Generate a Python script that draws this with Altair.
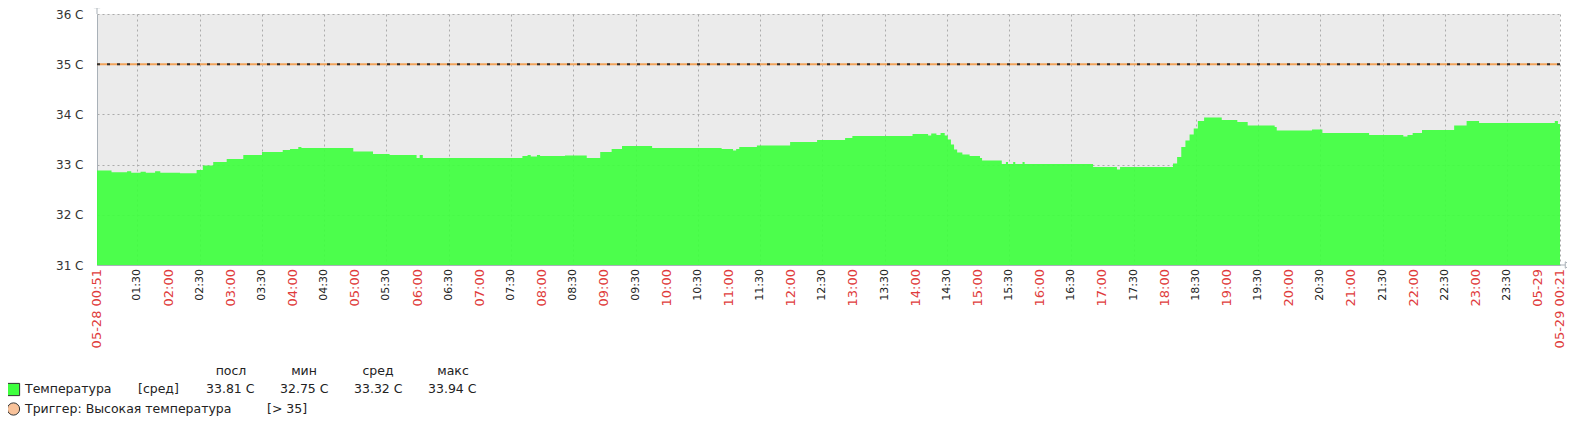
import altair as alt
import pandas as pd

# ---------------- data ----------------
SERIES_TIMES = ["00:51", "01:05", "01:20", "01:24", "01:33", "01:38", "01:47", "01:52",
                "02:11", "02:27", "02:33", "02:43", "02:56", "03:12", "03:30", "03:50",
                "03:57", "04:05", "04:08", "04:58", "05:17", "05:33", "05:59", "06:02",
                "06:05", "07:41", "07:46", "07:49", "07:55", "07:58", "08:22", "08:43",
                "08:56", "09:07", "09:17", "09:46", "10:53", "11:04", "11:07", "11:10",
                "11:27", "11:59", "12:25", "12:52", "12:59", "13:57", "14:12", "14:15",
                "14:20", "14:24", "14:28", "14:31", "14:34", "14:37", "14:40", "14:45",
                "14:52", "15:02", "15:04", "15:23", "15:27", "15:29", "15:34", "15:36",
                "15:43", "15:45", "16:51", "17:14", "17:17", "18:08", "18:12", "18:16",
                "18:20", "18:24", "18:28", "18:32", "18:38", "18:55", "19:10", "19:20",
                "19:46", "19:48", "20:22", "20:32", "21:17", "21:50", "21:54", "21:59",
                "22:08", "22:39", "22:51", "23:03", "00:16", "00:19", "00:21"]
SERIES_VALUES = [32.88, 32.85, 32.87, 32.84, 32.86, 32.84, 32.87, 32.84,
                 32.83, 32.89, 32.98, 33.05, 33.11, 33.19, 33.25, 33.29,
                 33.31, 33.35, 33.33, 33.26, 33.21, 33.19, 33.13, 33.19,
                 33.13, 33.17, 33.19, 33.16, 33.19, 33.17, 33.18, 33.13,
                 33.25, 33.31, 33.37, 33.33, 33.31, 33.28, 33.31, 33.35,
                 33.38, 33.45, 33.49, 33.53, 33.57, 33.61, 33.58, 33.62,
                 33.59, 33.63, 33.58, 33.50, 33.40, 33.30, 33.24, 33.20,
                 33.17, 33.13, 33.08, 33.01, 33.05, 33.01, 33.05, 33.01,
                 33.05, 33.01, 32.95, 32.90, 32.95, 33.02, 33.15, 33.35,
                 33.48, 33.60, 33.72, 33.87, 33.94, 33.89, 33.85, 33.78,
                 33.75, 33.68, 33.70, 33.63, 33.59, 33.56, 33.59, 33.63,
                 33.69, 33.78, 33.87, 33.83, 33.87, 33.81, 33.81]

TICK_LABELS = ["05-28 00:51", "01:30", "02:00", "02:30", "03:00", "03:30", "04:00", "04:30",
               "05:00", "05:30", "06:00", "06:30", "07:00", "07:30", "08:00", "08:30",
               "09:00", "09:30", "10:00", "10:30", "11:00", "11:30", "12:00", "12:30",
               "13:00", "13:30", "14:00", "14:30", "15:00", "15:30", "16:00", "16:30",
               "17:00", "17:30", "18:00", "18:30", "19:00", "19:30", "20:00", "20:30",
               "21:00", "21:30", "22:00", "22:30", "23:00", "23:30", "05-29", "05-29 00:21"]

Y_TICKS = [31, 31.5, 32, 32.5, 33, 33.5, 34, 34.5, 35, 35.5, 36]
TRIGGER = [35]

LEGEND_HEADERS = ["посл", "мин", "сред", "макс"]
LEGEND_VALUES = ["33.81 C", "32.75 C", "33.32 C", "33.94 C"]
SERIES_NAME = "Температура"
SERIES_FUNC = "[сред]"
TRIGGER_NAME = "Триггер: Высокая температура"
TRIGGER_COND = "[> 35]"

# ---------------- helpers ----------------
START_MIN = 51


def to_minutes(times):
    out, day, prev = [], 0, -1
    for t in times:
        h, m = t.split(":")
        v = int(h) * 60 + int(m)
        if v < prev:
            day += 1
        prev = v
        out.append(day * 1440 + v - START_MIN)
    return out


series = pd.DataFrame({"m": to_minutes(SERIES_TIMES), "v": SERIES_VALUES})

tick_times = []
for lab in TICK_LABELS:
    tick_times.append(lab.split(" ")[-1] if ":" in lab else "00:00")
tick_min = to_minutes(tick_times)
RED = "#E03C3C"
is_major = [(t.endswith(":00") or "-" in l) for t, l in zip(tick_times, TICK_LABELS)]
ticks = pd.DataFrame({
    "m": tick_min,
    "label": TICK_LABELS,
    "col": [RED if mj else "#222222" for mj in is_major],
    "fs": [13 if mj else 11 for mj in is_major],
})
END_MIN = tick_min[-1]
grid_x = tick_min[1:]

W, H = 1463, 251
FONT = "DejaVu Sans"
AXIS_COL = "#A9B1B8"
GRID_COL = "#ABABAB"

xscale = alt.Scale(domain=[0, END_MIN], nice=False, zero=False)
yscale = alt.Scale(domain=[31, 36], nice=False, zero=False)

area = alt.Chart(series).mark_area(
    interpolate="step-after", color="#3EFF3E", opacity=0.92, clip=True
).encode(
    x=alt.X("m:Q", scale=xscale, axis=alt.Axis(
        values=grid_x, grid=True, gridColor=GRID_COL, gridDash=[2, 3], gridWidth=1,
        labels=False, ticks=False, domainColor=AXIS_COL, domainWidth=1, title=None)),
    y=alt.Y("v:Q", scale=yscale, axis=alt.Axis(
        values=Y_TICKS, grid=True, gridColor=GRID_COL, gridDash=[2, 3], gridWidth=1,
        ticks=False, tickSize=0, labelPadding=14, labelFontSize=12, labelFont=FONT,
        labelColor="#333333",
        labelExpr="datum.value % 1 == 0 ? datum.value + ' C' : ''",
        domainColor=AXIS_COL, domainWidth=1, title=None)),
    y2=alt.datum(31),
)

trig_df = pd.DataFrame({"v": TRIGGER})
trig1 = alt.Chart(trig_df).mark_rule(color="#F2A45C", strokeWidth=2).encode(y=alt.Y("v:Q", scale=yscale))
trig2 = alt.Chart(trig_df).mark_rule(color="#333333", strokeWidth=2, strokeDash=[3, 7]).encode(
    y=alt.Y("v:Q", scale=yscale))

tick_text = alt.Chart(ticks).mark_text(
    angle=270, align="right", baseline="middle", font=FONT
).encode(
    x=alt.X("m:Q", scale=xscale),
    y=alt.value(H + 4),
    text="label:N",
    color=alt.Color("col:N", scale=None),
    size=alt.Size("fs:Q", scale=None),
)

one = pd.DataFrame({"a": [0]})
decor = [
    alt.Chart(one).mark_rule(color=AXIS_COL).encode(x=alt.value(0), y=alt.value(-8), y2=alt.value(0)),
    alt.Chart(one).mark_rule(color=AXIS_COL).encode(x=alt.value(W), x2=alt.value(W + 6), y=alt.value(H)),
    alt.Chart(one).mark_point(shape="triangle-up", size=40, filled=True, fill="white",
                              stroke=AXIS_COL, strokeWidth=1, opacity=1).encode(
        x=alt.value(0), y=alt.value(-9)),
    alt.Chart(one).mark_point(shape="triangle-right", size=40, filled=True, fill="white",
                              stroke=AXIS_COL, strokeWidth=1, opacity=1).encode(
        x=alt.value(W + 8), y=alt.value(H)),
]


def label(text, x, y, align="left", size=12.5):
    return alt.Chart(pd.DataFrame({"t": [text]})).mark_text(
        align=align, baseline="middle", font=FONT, fontSize=size, color="#222222"
    ).encode(x=alt.value(x), y=alt.value(y), text="t:N")


OX, OY = 97, 14  # plot origin in page pixels
ROW_H, ROW_1, ROW_2 = 371, 389, 409
legend = []
for h, cx in zip(LEGEND_HEADERS, [231, 304, 378, 453]):
    legend.append(label(h, cx - OX, ROW_H - OY, align="center"))
legend.append(label(SERIES_NAME, 25 - OX, ROW_1 - OY))
legend.append(label(SERIES_FUNC, 138 - OX, ROW_1 - OY))
for v, lx in zip(LEGEND_VALUES, [206, 280, 354, 428]):
    legend.append(label(v, lx - OX, ROW_1 - OY))
legend.append(label(TRIGGER_NAME, 25 - OX, ROW_2 - OY))
legend.append(label(TRIGGER_COND, 267 - OX, ROW_2 - OY))
legend.append(alt.Chart(one).mark_point(shape="square", size=150, filled=True, fill="#3EFF3E",
                                        stroke="#333333", strokeWidth=1, opacity=1).encode(
    x=alt.value(13.5 - OX), y=alt.value(ROW_1 + 0.5 - OY)))
legend.append(alt.Chart(one).mark_point(shape="circle", size=150, filled=True, fill="#F8C29A",
                                        stroke="#333333", strokeWidth=1, opacity=1).encode(
    x=alt.value(13.5 - OX), y=alt.value(ROW_2 - OY)))

chart = alt.layer(area, trig1, trig2, tick_text, *decor, *legend).properties(
    width=W, height=H,
    autosize=alt.AutoSizeParams(type="none"),
    padding={"left": 89, "top": 6, "right": 7, "bottom": 154},
    background="white",
).configure_view(fill="#EBEBEB", stroke=None)

chart.save("out.html", embed_options={"renderer": "svg", "actions": False})
